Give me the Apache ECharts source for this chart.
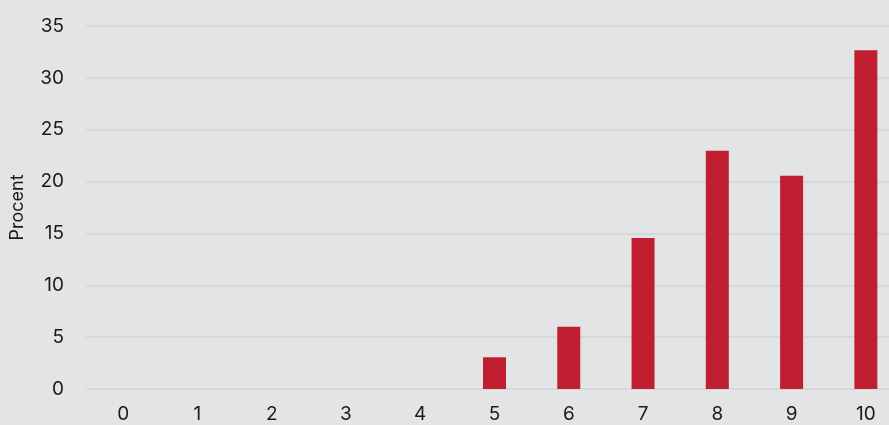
<!DOCTYPE html>
<html><head><meta charset="utf-8">
<script src="https://cdn.jsdelivr.net/npm/echarts@6/dist/echarts.min.js"></script>
<style>html,body{margin:0;padding:0;background:#e3e4e6}#c{width:889px;height:425px}</style>
</head><body><div id="c"></div>
<script>
const categories = ['0','1','2','3','4','5','6','7','8','9','10'];
const values = [0,0,0,0,0,3.06,6.0,14.56,22.98,20.57,32.66];
const yTicks = {min:0,max:35,interval:5};
const chart = echarts.init(document.getElementById('c'));
chart.setOption({
  backgroundColor:'#e3e4e6',
  textStyle:{fontFamily:'Inter'},
  grid:{left:86,top:26,bottom:36,width:817,containLabel:false,outerBoundsMode:'none'},
  xAxis:{type:'category',data:categories,axisLine:{show:false},axisTick:{show:false},
    axisLabel:{color:'#1a1a1a',fontSize:19,fontFamily:'Inter',margin:16}},
  yAxis:{type:'value',min:yTicks.min,max:yTicks.max,interval:yTicks.interval,
    name:'Procent',nameLocation:'middle',nameGap:59,nameTextStyle:{color:'#1a1a1a',fontSize:18,fontFamily:'Inter'},
    axisLabel:{color:'#1a1a1a',fontSize:19,fontFamily:'Inter',margin:22},
    splitLine:{lineStyle:{color:'#d3d4d6',width:1.5}}},
  series:[{type:'bar',data:values,barWidth:23,itemStyle:{color:'#c01f32'},animation:false}]
});
</script></body></html>
